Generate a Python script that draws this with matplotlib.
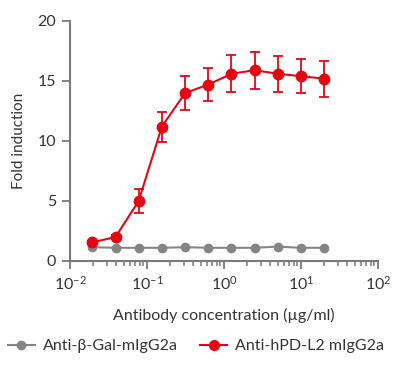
import numpy as np
import matplotlib.pyplot as plt
from matplotlib.lines import Line2D
from matplotlib.ticker import LogLocator, FixedLocator

plt.rcParams['font.family'] = ['Lato', 'DejaVu Sans']
plt.rcParams['mathtext.fontset'] = 'custom'
plt.rcParams['mathtext.rm'] = 'Lato'
plt.rcParams['mathtext.default'] = 'regular'

# Data
conc = [0.0195, 0.039, 0.078, 0.156, 0.3125, 0.625, 1.25, 2.5, 5, 10, 20]
pdl2 = [1.55, 2.0, 5.0, 11.2, 14.0, 14.7, 15.6, 15.9, 15.6, 15.4, 15.2]
pdl2_err = [0.15, 0.15, 1.0, 1.25, 1.45, 1.4, 1.55, 1.55, 1.5, 1.4, 1.5]
bgal = [1.15, 1.1, 1.1, 1.1, 1.15, 1.1, 1.1, 1.1, 1.2, 1.1, 1.1]
labels = ['Anti-β-Gal-mIgG2a', 'Anti-hPD-L2 mIgG2a']

red = '#e30613'
gray = '#858585'
axcol = '#7a7a7a'
txt = '#333333'

fig = plt.figure(figsize=(4, 3.65), dpi=100)
ax = fig.add_axes([70 / 400, 1 - 261 / 365, 308 / 400, 240 / 365])

ax.plot(conc, bgal, '-o', color=gray, lw=1.5, ms=6, zorder=2)
ax.errorbar(conc, pdl2, yerr=pdl2_err, fmt='-o', color=red, lw=1.5, ms=7.5,
            elinewidth=1.3, capsize=3.3, capthick=1.3, zorder=3)

ax.set_xscale('log')
ax.set_xlim(1e-2, 1e2)
ax.set_ylim(0, 20)
ax.xaxis.set_major_locator(FixedLocator([1e-2, 1e-1, 1e0, 1e1, 1e2]))
ax.xaxis.set_minor_locator(LogLocator(base=10, subs=np.arange(2, 10), numticks=20))
ax.set_xticklabels(['10$^{-2}$', '10$^{-1}$', '10$^{0}$', '10$^{1}$', '10$^{2}$'])
ax.set_yticks([0, 5, 10, 15, 20])

for s in ['top', 'right']:
    ax.spines[s].set_visible(False)
for s in ['left', 'bottom']:
    ax.spines[s].set_color(axcol)
    ax.spines[s].set_linewidth(1.5)
ax.tick_params(which='major', length=6, width=1.3, color=axcol, labelsize=11.5, labelcolor=txt, pad=4)
ax.tick_params(which='minor', length=3.5, width=1.1, color=axcol)

ax.set_xlabel('Antibody concentration (µg/ml)', fontsize=11.5, color=txt, labelpad=11)
ax.set_ylabel('Fold induction', fontsize=11, color=txt, labelpad=8)

handles = [Line2D([], [], color=gray, marker='o', lw=1.5, ms=6),
           Line2D([], [], color=red, marker='o', lw=1.5, ms=7)]
fig.legend(handles, labels, loc='center', bbox_to_anchor=(0.49, 1 - 346 / 365), ncol=2,
           frameon=False, fontsize=11.5, handlelength=1.7, columnspacing=1.4,
           handletextpad=0.5, labelcolor=txt)

fig.savefig('out.png', dpi=100)
